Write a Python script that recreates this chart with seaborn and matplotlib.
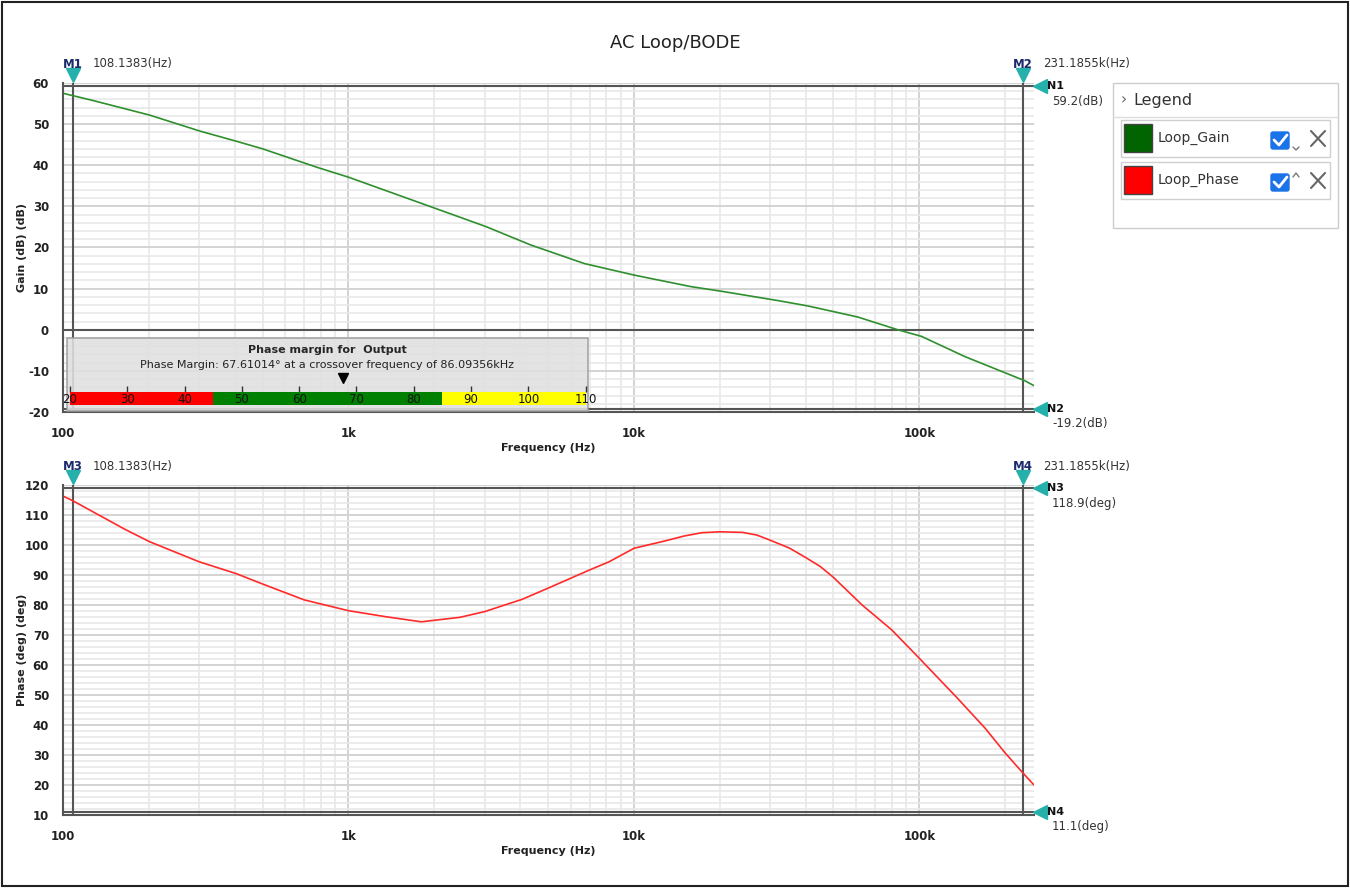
import matplotlib
matplotlib.use("Agg")
import numpy as np
import matplotlib.pyplot as plt
import matplotlib.transforms as mtransforms
from matplotlib.patches import Rectangle, FancyBboxPatch
from matplotlib.ticker import MultipleLocator, LogLocator, NullFormatter
import seaborn as sns

# data
gain_freq = [100, 128, 201, 302, 402, 500, 776, 1000, 2018, 3027, 4355, 6700,
             10000, 15800, 20500, 31900, 40600, 60800, 84000, 101600, 144000,
             234000, 252000]
gain_db = [57.5, 55.7, 52.2, 48.3, 45.9, 44.0, 39.5, 37.1, 29.5, 25.1, 20.6, 16.1,
           13.3, 10.5, 9.3, 7.1, 5.8, 3.1, 0.0, -1.6, -6.5, -12.4, -13.6]

phase_freq = [100, 108, 142, 165, 201, 300, 406, 500, 700, 1000, 1350, 1800, 2460,
              3000, 4060, 5000, 7000, 8180, 10000, 12900, 15000, 17300, 20000,
              24000, 27000, 30000, 35000, 40000, 45000, 50000, 63000, 80000,
              100000, 136000, 170000, 200000, 231000, 252000]
phase_deg = [116.3, 114.8, 108.6, 105.2, 101.1, 94.4, 90.4, 87.0, 81.7, 78.1, 76.1,
             74.4, 75.9, 77.8, 81.9, 85.6, 91.7, 94.4, 98.9, 101.4, 103.0, 104.1,
             104.4, 104.2, 103.3, 101.6, 99.0, 95.8, 92.8, 89.2, 80.0, 71.7, 62.2,
             48.9, 38.9, 30.6, 23.9, 20.0]

series_names = ["Loop_Gain", "Loop_Phase"]
series_colors = ["#006400", "#ff0000"]
line_colors = ["#2f8f2f", "#ff2a2a"]

x_ticks = [100, 1000, 10000, 100000]
x_labels = ["100", "1k", "10k", "100k"]
gain_ticks = list(range(-20, 61, 10))
phase_ticks = list(range(10, 121, 10))

m_freqs = [108.1383, 231185.5]
m_texts = ["108.1383(Hz)", "231.1855k(Hz)"]
n_gain = [59.2, -19.2]
n_phase = [118.9, 11.1]

pm_value = 67.61014
crossover_khz = 86.09356
pm_edges = [20, 45, 85, 110]
pm_colors = ["#ff0000", "#008000", "#ffff00"]
pm_ticks = list(range(20, 111, 10))

sns.set_style("white")
plt.rcParams["font.family"] = ["DejaVu Sans"]
plt.rcParams["axes.unicode_minus"] = False

W, H = 1350, 888
fig = plt.figure(figsize=(W / 100, H / 100), dpi=100)
fig.add_artist(Rectangle((0.0015, 0.002), 0.997, 0.996, transform=fig.transFigure,
                         fill=False, ec="#222222", lw=1.5))
fig.text(675 / W, 1 - 43 / H, "AC Loop/BODE", ha="center", va="center",
         fontsize=13, color="#222222")

ax_g = fig.add_axes([63 / W, 1 - 412 / H, 971 / W, 329 / H])
ax_p = fig.add_axes([63 / W, 1 - 815 / H, 971 / W, 330 / H])

teal = "#26b0ab"
dark = "#555555"


def style_axes(ax, yticks, ylim, ylabel):
    ax.set_xscale("log")
    ax.set_xlim(100, 252000)
    ax.set_ylim(ylim)
    ax.set_yticks(yticks)
    ax.yaxis.set_minor_locator(MultipleLocator(2))
    ax.set_xticks(x_ticks)
    ax.set_xticklabels(x_labels)
    ax.xaxis.set_minor_locator(LogLocator(base=10, subs=range(2, 10)))
    ax.xaxis.set_minor_formatter(NullFormatter())
    ax.grid(which="major", color="#d3d3d3", lw=1.4)
    ax.grid(which="minor", color="#e9e9e9", lw=1.2)
    ax.set_axisbelow(True)
    ax.tick_params(which="minor", length=0)
    ax.tick_params(which="major", length=4, width=1.3, color="#333333",
                   labelsize=8.5, labelcolor="#222222")
    ax.tick_params(axis="y", pad=6)
    ax.tick_params(axis="x", pad=7)
    for lab in ax.get_xticklabels() + ax.get_yticklabels():
        lab.set_fontweight("bold")
    for s in ["left", "bottom"]:
        ax.spines[s].set_color(dark)
        ax.spines[s].set_linewidth(1.5)
    for s in ["top", "right"]:
        ax.spines[s].set_visible(False)
    ax.set_xlabel("Frequency (Hz)", fontsize=8, fontweight="bold", color="#222222")
    ax.xaxis.set_label_coords(0.5, -0.095)
    ax.set_ylabel(ylabel, fontsize=8, fontweight="bold", color="#222222")
    ax.yaxis.set_label_coords(-0.037, 0.5)


style_axes(ax_g, gain_ticks, (-20, 60), "Gain (dB) (dB)")
style_axes(ax_p, phase_ticks, (10, 120), "Phase (deg) (deg)")

sns.lineplot(x=gain_freq, y=gain_db, ax=ax_g, color=line_colors[0], lw=1.2, zorder=2)
sns.lineplot(x=phase_freq, y=phase_deg, ax=ax_p, color=line_colors[1], lw=1.2, zorder=2)
ax_g.axhline(0, color=dark, lw=1.5, zorder=1.5)


def add_markers(ax, m_names, n_names, n_vals, unit, top_px):
    for f in m_freqs:
        ax.axvline(f, color=dark, lw=1.5, zorder=1.6)
    for v in n_vals:
        ax.axhline(v, color=dark, lw=1.5, zorder=1.6)
    tr = mtransforms.blended_transform_factory(ax.transData, fig.transFigure)
    tr_val = mtransforms.offset_copy(tr, fig=fig, x=20, y=0, units="dots")
    for f, name, txt in zip(m_freqs, m_names, m_texts):
        ax.plot([f], [1 - (top_px - 8) / H], marker="v", ms=10, color=teal,
                transform=tr, clip_on=False)
        ax.text(f, 1 - (top_px - 19) / H, name, transform=tr, ha="center",
                va="center", fontsize=8.5, fontweight="bold", color="#1c2a6b")
        ax.text(f, 1 - (top_px - 19) / H, txt, transform=tr_val, ha="left",
                va="center", fontsize=8.5, color="#333333")
    trn = mtransforms.blended_transform_factory(fig.transFigure, ax.transData)
    trn_val = mtransforms.offset_copy(trn, fig=fig, x=0, y=-15, units="dots")
    for v, name in zip(n_vals, n_names):
        ax.plot([1040 / W], [v], marker="<", ms=10, color=teal,
                transform=trn, clip_on=False)
        ax.text(1047 / W, v, name, transform=trn, ha="left", va="center",
                fontsize=8, fontweight="bold", color="#111111")
        ax.text(1052 / W, v, f"{v}({unit})", transform=trn_val, ha="left",
                va="center", fontsize=8.5, color="#333333")


add_markers(ax_g, ["M1", "M2"], ["N1", "N2"], n_gain, "dB", 83)
add_markers(ax_p, ["M3", "M4"], ["N3", "N4"], n_phase, "deg", 485)

# phase margin box
ax_g.add_patch(Rectangle((0.004, 0.004), 0.537, 0.221, transform=ax_g.transAxes,
                         fc="#e0e0e0", ec="#9c9c9c", lw=1.2, alpha=0.88, zorder=3))
ax_g.text(0.272, 0.188, "Phase margin for  Output", transform=ax_g.transAxes,
          ha="center", va="center", fontsize=8, fontweight="bold", zorder=4)
ax_g.text(0.272, 0.143,
          f"Phase Margin: {pm_value}\u00b0 at a crossover frequency of {crossover_khz}kHz",
          transform=ax_g.transAxes, ha="center", va="center", fontsize=8,
          color="#222222", zorder=4)

bar_ax = ax_g.inset_axes([0.0072, 0.0213, 0.531, 0.0395])
bar_ax.barh(0.5, width=np.diff(pm_edges), left=pm_edges[:-1], height=1,
            color=pm_colors, edgecolor="none")
bar_ax.set_xlim(pm_edges[0], pm_edges[-1])
bar_ax.set_ylim(0, 1)
bar_ax.set_xticks(pm_ticks)
bar_ax.set_yticks([])
bar_ax.tick_params(axis="x", top=True, bottom=False, labeltop=False,
                   labelbottom=False, length=4, width=1, color="#333333")
for s in bar_ax.spines.values():
    s.set_visible(False)
bar_ax.patch.set_alpha(0)
for v in pm_ticks:
    bar_ax.text(v, 0.45, str(v), ha="center", va="center", fontsize=8.5, color="#111111")
bar_ax.plot([pm_value], [2.1], marker="v", ms=7, color="black", clip_on=False)

# legend panel
lg = fig.add_axes([1113 / W, 1 - 228 / H, 225 / W, 145 / H])
lg.set_xlim(0, 225)
lg.set_ylim(145, 0)
lg.axis("off")
lg.add_patch(Rectangle((0, 0), 225, 145, fc="white", ec="#cccccc", lw=1, clip_on=False))
lg.text(8, 17, "\u203a", fontsize=11, color="#666666", va="center")
lg.text(20, 17, "Legend", fontsize=11.5, color="#333333", va="center")
lg.plot([0, 225], [34, 34], color="#dddddd", lw=1)
for i, (name, col) in enumerate(zip(series_names, series_colors)):
    y0 = 37 + i * 42
    lg.add_patch(Rectangle((8, y0), 209, 37, fc="white", ec="#d0d0d0", lw=1))
    lg.add_patch(Rectangle((11, y0 + 4), 28, 28, fc=col, ec="#444444", lw=1))
    lg.text(45, y0 + 18, name, fontsize=10, color="#333333", va="center")
    lg.add_patch(FancyBboxPatch((158, y0 + 12), 18, 17,
                                boxstyle="round,pad=0,rounding_size=2",
                                fc="#1a73e8", ec="#1a73e8"))
    lg.plot([161, 166, 174], [y0 + 20, y0 + 25, y0 + 15], color="white", lw=2,
            solid_capstyle="round")
    if i == 0:
        lg.plot([180, 183, 186], [y0 + 27, y0 + 30, y0 + 27], color="#777777", lw=1)
    else:
        lg.plot([180, 183, 186], [y0 + 15, y0 + 11, y0 + 15], color="#777777", lw=1)
    lg.plot([198, 212], [y0 + 11, y0 + 26], color="#666666", lw=1.5)
    lg.plot([198, 212], [y0 + 26, y0 + 11], color="#666666", lw=1.5)

fig.savefig("out.png", dpi=100)
